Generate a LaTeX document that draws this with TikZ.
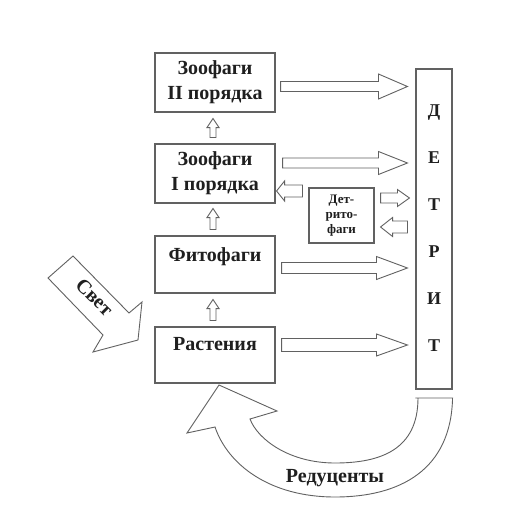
\documentclass[tikz,border=0pt]{standalone}
\usepackage{fontspec}
\setmainfont{Liberation Serif}
\usetikzlibrary{calc}
\definecolor{lc}{gray}{0.38}
\definecolor{tc}{gray}{0.12}
\tikzset{
  box/.style={draw=lc, line width=1.1pt, rectangle, inner sep=0pt},
  hollow/.style={draw=lc, line width=0.9pt, line join=miter, fill=white},
  lbl/.style={font=\bfseries\fontsize{20}{25}\selectfont, text=tc, align=center, inner sep=0pt},
  small/.style={font=\bfseries\fontsize{13}{15}\selectfont, text=tc, align=center},
  dl/.style={font=\bfseries\fontsize{18}{20}\selectfont, text=tc, inner sep=0pt, anchor=base},
}
% hollow block arrow from #1 to #2: shaft half-width #3, head half-width #4, head length #5
\newcommand\blockarr[5]{%
  \coordinate (bah) at ($(#2)!#5!(#1)$);
  \draw[hollow] ($(#1)!#3!90:(#2)$) -- ($(bah)!#3!90:(#2)$) -- ($(bah)!#4!90:(#2)$)
    -- (#2) -- ($(bah)!#4!-90:(#2)$) -- ($(bah)!#3!-90:(#2)$) -- ($(#1)!#3!-90:(#2)$) -- cycle;}
\begin{document}
\begin{tikzpicture}[x=1pt,y=-1pt]
\useasboundingbox (0,0) rectangle (519,506);
\fill[white] (0,0) rectangle (519,506);

% boxes
\node[box, minimum width=120pt, minimum height=59pt, lbl] (z2) at (215,82.5) {Зоофаги\\II порядка};
\node[box, minimum width=120pt, minimum height=59pt, lbl] (z1) at (215,173.5) {Зоофаги\\I порядка};
\node[box, minimum width=120pt, minimum height=57pt] (f) at (215,264.5) {};
\node[lbl, anchor=base] (ft) at (215,261) {Фитофаги};
\node[box, minimum width=120pt, minimum height=56pt] (r) at (215,355) {};
\node[lbl, anchor=base] (rt) at (215,350) {Растения};
\node[box, minimum width=65pt, minimum height=55pt, small] (dt) at (341.5,215.5) {Дет-\\рито-\\фаги};
\node[box, minimum width=36pt, minimum height=320pt] (D) at (434,229) {};
\foreach \l/\y [count=\i] in {Д/116, Е/163, Т/210, Р/257, И/304, Т/351}
  \node[dl] (dl\i) at (434,\y) {\l};

% up arrows
\coordinate (u1s) at ($(r.north)+(-2,-6)$);  \coordinate (u1e) at ($(f.south)+(-2,6)$);
\coordinate (u2s) at ($(f.north)+(-2,-6)$);  \coordinate (u2e) at ($(z1.south)+(-2,5)$);
\coordinate (u3s) at ($(z1.north)+(-2,-6)$); \coordinate (u3e) at ($(z2.south)+(-2,6)$);
\blockarr{u1s}{u1e}{3pt}{6pt}{9pt}
\blockarr{u2s}{u2e}{3pt}{6pt}{9pt}
\blockarr{u3s}{u3e}{3pt}{6pt}{9pt}

% arrows to detritus
\coordinate (a1s) at ($(z2.east)+(5,4)$);   \coordinate (a1e) at ($(D.west |- a1s)+(-8,0)$);
\coordinate (a2s) at ($(z1.east)+(7,-10.5)$); \coordinate (a2e) at ($(D.west |- a2s)+(-8,0)$);
\coordinate (a3s) at ($(f.east)+(6,3.5)$);   \coordinate (a3e) at ($(D.west |- a3s)+(-8,0)$);
\coordinate (a4s) at ($(r.east)+(6,-10)$);   \coordinate (a4e) at ($(D.west |- a4s)+(-8,0)$);
\blockarr{a1s}{a1e}{5pt}{12.5pt}{29pt}
\blockarr{a2s}{a2e}{5pt}{11.5pt}{29pt}
\blockarr{a3s}{a3e}{5.5pt}{11.5pt}{31pt}
\blockarr{a4s}{a4e}{6.5pt}{11pt}{31pt}

% detritophages arrows
\coordinate (b1s) at ($(dt.west)+(-6,-24.5)$); \coordinate (b1e) at ($(z1.east |- b1s)+(1,0)$);
\coordinate (b2s) at ($(dt.east)+(6,-17.5)$);  \coordinate (b2e) at ($(D.west |- b2s)+(-6,0)$);
\coordinate (b3s) at ($(D.west)+(-8,-2)$);     \coordinate (b3e) at ($(dt.east |- b3s)+(6,0)$);
\blockarr{b1s}{b1e}{6pt}{10pt}{8pt}
\blockarr{b2s}{b2e}{5pt}{8.5pt}{12pt}
\blockarr{b3s}{b3e}{6pt}{9.5pt}{12pt}

% light arrow
\draw[hollow] (73,256) -- (129,313) -- (142,302) -- (138,340) -- (93,352) -- (103,335) -- (48,278) -- cycle;
\node[lbl, rotate=-45] (svet) at (94.5,297) {Свет};

% reducers arrow
\draw[hollow] (D.south west |- 0,398) -- (D.south east |- 0,398)
  .. controls (451,470) and (400,497) .. (335,497)
  .. controls (270,497) and (228,465) .. (215,427)
  -- (187,433) -- (219,385) -- (277,411) -- (250,419)
  .. controls (258,440) and (290,463) .. (335,463)
  .. controls (380,463) and (418,450) .. (418,398) -- cycle;
\node[lbl] (red) at (335,478) {Редуценты};
\end{tikzpicture}
\end{document}
